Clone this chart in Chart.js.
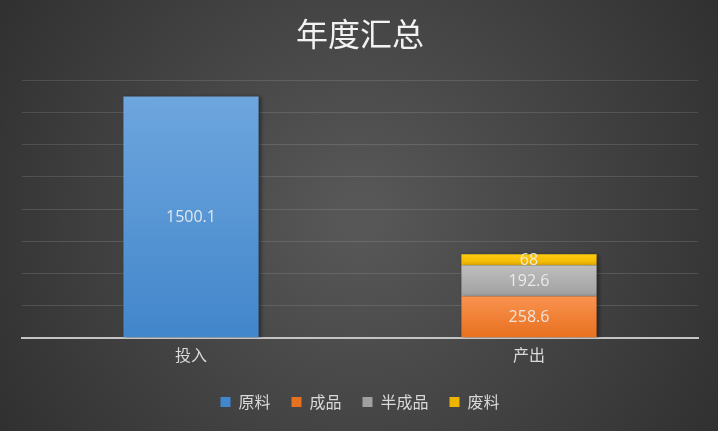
<!DOCTYPE html>
<html lang="zh-cn">
<head>
  <meta charset="UTF-8">
  <script src="https://cdn.jsdelivr.net/npm/chart.js"></script>
  <title>年度汇总</title>
  <style>
    html, body { margin: 0; padding: 0; background: #3a3a3a; }
    #wrap { width: 718px; height: 431px; }
  </style>
</head>
<body>
<div id="wrap"><canvas id="chart"></canvas></div>
<script>
  // 数据
  const categories = ['投入', '产出'];
  const seriesNames = ['原料', '成品', '半成品', '废料'];
  const yuanliao = [1500.1, null];
  const chengpin = [null, 258.6];
  const banchengpin = [null, 192.6];
  const feiliao = [null, 68];
  const yTicksMax = 1600;
  const yTicksStep = 200;

  // 每个系列的渐变色（上, 下）
  const colors = [
    ['#6ea6de', '#4286cb'],
    ['#f9924f', '#e8711f'],
    ['#bebebe', '#a0a0a0'],
    ['#ffcb10', '#efb400']
  ];

  const cjk = '"Noto Sans CJK SC", "Noto Sans", sans-serif';

  // 背景 + 柱子渐变 + 阴影 + 数值标签
  const decor = {
    id: 'decor',
    beforeDraw(chart) {
      const { ctx, width, height } = chart;
      const g = ctx.createRadialGradient(width / 2, height / 2, 20, width / 2, height / 2, width * 0.6);
      g.addColorStop(0, '#575757');
      g.addColorStop(1, '#2f2f2f');
      ctx.save();
      ctx.fillStyle = g;
      ctx.fillRect(0, 0, width, height);
      ctx.restore();
    },
    beforeDatasetsDraw(chart) {
      const ctx = chart.ctx;
      chart.data.datasets.forEach((ds, i) => {
        chart.getDatasetMeta(i).data.forEach((el, j) => {
          if (ds.data[j] === null || !isFinite(el.y) || !isFinite(el.base)) return;
          const g = ctx.createLinearGradient(0, el.y, 0, el.base);
          g.addColorStop(0, colors[i][0]);
          g.addColorStop(1, colors[i][1]);
          el.options.backgroundColor = g;
        });
      });
    },
    beforeDatasetDraw(chart) {
      const ctx = chart.ctx;
      ctx.save();
      ctx.shadowColor = 'rgba(0,0,0,0.45)';
      ctx.shadowBlur = 4;
      ctx.shadowOffsetX = 2;
      ctx.shadowOffsetY = 1;
    },
    afterDatasetDraw(chart) {
      chart.ctx.restore();
    },
    afterDatasetsDraw(chart) {
      const ctx = chart.ctx;
      ctx.save();
      ctx.font = '16px "Open Sans", "Noto Sans", sans-serif';
      ctx.fillStyle = 'rgba(240,240,240,0.9)';
      ctx.textAlign = 'center';
      ctx.textBaseline = 'middle';
      chart.data.datasets.forEach((ds, i) => {
        chart.getDatasetMeta(i).data.forEach((el, j) => {
          const v = ds.data[j];
          if (v === null || v === undefined) return;
          ctx.fillText(String(v), el.x, (el.y + el.base) / 2 + 1);
        });
      });
      ctx.restore();
    }
  };

  const seriesData = [yuanliao, chengpin, banchengpin, feiliao];

  new Chart(document.getElementById('chart'), {
    type: 'bar',
    data: {
      labels: categories,
      datasets: seriesNames.map((name, i) => ({
        label: name,
        data: seriesData[i],
        backgroundColor: colors[i][1],
        borderWidth: 0,
        categoryPercentage: 0.4,
        barPercentage: 1
      }))
    },
    options: {
      responsive: true,
      maintainAspectRatio: false,
      animation: false,
      layout: { padding: { left: 22, right: 20, top: 0, bottom: 11 } },
      scales: {
        x: {
          stacked: true,
          grid: { display: false, drawTicks: false },
          border: { display: true, color: '#c4c4c4', width: 2 },
          ticks: { color: '#d9d9d9', font: { family: cjk, size: 16 }, padding: 8 }
        },
        y: {
          stacked: true,
          min: 0,
          max: yTicksMax,
          ticks: { display: false, stepSize: yTicksStep },
          border: { display: false },
          grid: {
            drawTicks: false,
            color: ctx => ctx.tick && ctx.tick.value === 0 ? 'rgba(0,0,0,0)' : 'rgba(255,255,255,0.12)',
            lineWidth: 1
          }
        }
      },
      plugins: {
        title: {
          display: true,
          text: '年度汇总',
          color: '#f2f2f2',
          font: { family: cjk, size: 32, weight: 'normal' },
          padding: { top: 15, bottom: 27 }
        },
        legend: {
          position: 'bottom',
          labels: {
            color: '#d9d9d9',
            font: { family: cjk, size: 16 },
            boxWidth: 10,
            boxHeight: 10,
            padding: 21,
            generateLabels(chart) {
              return chart.data.datasets.map((ds, i) => ({
                text: ds.label,
                fillStyle: colors[i][1],
                strokeStyle: colors[i][1],
                lineWidth: 0,
                fontColor: '#d9d9d9',
                datasetIndex: i,
                hidden: false
              }));
            }
          }
        },
        tooltip: { enabled: false }
      }
    },
    plugins: [decor]
  });
</script>
</body>
</html>
